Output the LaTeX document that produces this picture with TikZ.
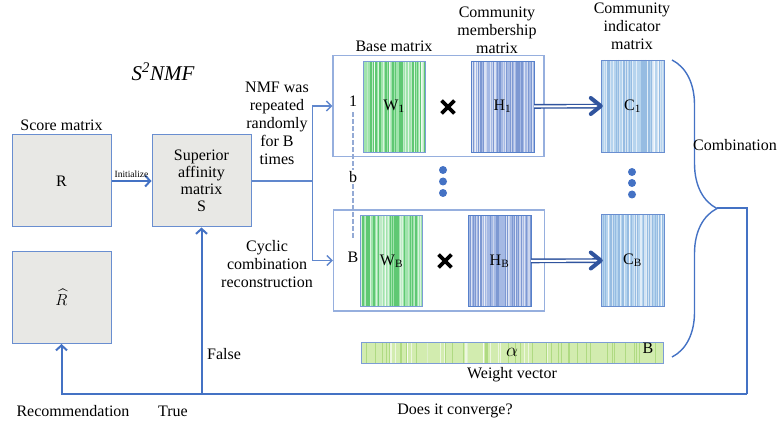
\RequirePackage{fix-cm}
\documentclass[tikz,border=0pt]{standalone}
\usepackage{fontspec}
\setmainfont{Liberation Serif}
\usepackage{amsmath}
\usetikzlibrary{arrows.meta,positioning,calc,shapes.misc,decorations.pathreplacing}

\definecolor{lineblue}{RGB}{68,114,196}
\definecolor{frameblue}{RGB}{150,175,222}
\definecolor{darkarrow}{RGB}{48,84,158}
\definecolor{scorefill}{RGB}{232,232,229}
\definecolor{wfill}{RGB}{160,228,172}
\definecolor{wline}{RGB}{95,200,115}
\definecolor{hfill}{RGB}{165,185,228}
\definecolor{hline}{RGB}{125,152,210}
\definecolor{cfill}{RGB}{182,212,238}
\definecolor{cline}{RGB}{150,188,226}
\definecolor{vfill}{RGB}{210,236,175}
\definecolor{vline}{RGB}{175,218,130}

\tikzset{
  stripes/.style={path picture={
    \foreach \k in {1,...,40}{
      \pgfmathsetmacro\xx{rnd}
      \draw[#1, line width=0.35pt]
        ($(path picture bounding box.north west)!\xx!(path picture bounding box.north east)$) --
        ($(path picture bounding box.south west)!\xx!(path picture bounding box.south east)$);
    }
    \foreach \k in {1,...,20}{
      \pgfmathsetmacro\xx{rnd}
      \draw[white, opacity=0.6, line width=0.4pt]
        ($(path picture bounding box.north west)!\xx!(path picture bounding box.north east)$) --
        ($(path picture bounding box.south west)!\xx!(path picture bounding box.south east)$);
    }}}
}

\begin{document}
\begin{tikzpicture}[x=1pt,y=-1pt,font=\fontsize{16}{19}\selectfont]
  \pgfmathsetseed{7}
  \tikzstyle{score}
    =[draw=lineblue!80, fill=scorefill, line width=1pt, minimum width=99pt,
    minimum height=92pt, inner sep=0pt, align=center]
  \tikzstyle{frame}
    =[draw=frameblue, line width=1.2pt, minimum width=211pt, minimum height=101pt, inner sep=0pt]
  \tikzstyle{wmat}
    =[draw=lineblue!70, fill=wfill, stripes=wline, minimum width=62pt, minimum height=91pt, inner sep=0pt]
  \tikzstyle{hmat}
    =[draw=lineblue!90, fill=hfill, stripes=hline, minimum width=63pt, minimum height=91pt, inner sep=0pt]
  \tikzstyle{cmat}
    =[draw=lineblue!80, fill=cfill, stripes=cline, minimum width=63pt, minimum height=92pt, inner sep=0pt]
  \tikzstyle{times}
    =[cross out, draw=black, line width=3.8pt, minimum size=9pt, inner sep=0pt]
  \tikzstyle{dot}
    =[circle, fill=lineblue, minimum size=8pt, inner sep=0pt]
  \tikzstyle{flow}
    =[draw=lineblue, line width=2pt, -{Straight Barb[length=5pt,width=11pt,line width=2pt]}]
  \tikzstyle{split}
    =[draw=lineblue!85, line width=1.4pt, -{Straight Barb[length=5pt,width=10pt,line width=1.4pt]}]
  \tikzstyle{dbl}
    =[draw=darkarrow, double=white, double distance=2pt, line width=1.4pt, shorten >=3pt]
  \tikzstyle{chevron}
    =[draw=darkarrow, line width=4pt, line cap=round, line join=round]
  \tikzstyle{lbl}
    =[align=center, inner sep=1pt]

  \useasboundingbox (0,0) rectangle (778,427);

  % left column
  \node[score] (R) at (61.5,181) {R};
  \node[lbl] (scorelbl) [above=3pt of R] {Score matrix};
  \node[score] (Rhat) at (61.5,297.5) {$\widehat{R}$};
  \node[score] (S) at (201.5,181) {Superior\\[-2pt]affinity\\[-2pt]matrix\\[-2pt]S};
  \node[font=\fontsize{21}{23}\selectfont\itshape] (title) at (163,72) {S\textsuperscript{2}NMF};
  \draw[flow] (R) -- node[above, font=\fontsize{9.5}{10}\selectfont, inner sep=2pt] {Initialize} (S);

  % NMF runs
  \node[frame] (frame1) at (438.5,106) {};
  \node[frame] (frameB) at (439,260.5) {};
  \node[wmat] (W1) at (394,106.5) {W\textsubscript{1}};
  \node[hmat] (H1) at (502.5,106.5) {H\textsubscript{1}};
  \node[wmat] (WB) at (391.5,261) {W\textsubscript{B}};
  \node[hmat] (HB) at (499.5,261) {H\textsubscript{B}};
  \node[times] (x1) at (448,107) {};
  \node[times] (xB) at (445,261) {};
  \node[cmat] (C1) at (632.5,106) {C\textsubscript{1}};
  \node[cmat] (CB) at (632.5,260.5) {C\textsubscript{B}};
  \draw[dbl] (H1) -- (C1);
  \draw[chevron] ([xshift=-10pt,yshift=-8pt]C1.west) -- (C1.west) -- ([xshift=-10pt,yshift=8pt]C1.west);
  \draw[dbl] (HB) -- (CB);
  \draw[chevron] ([xshift=-10pt,yshift=-8pt]CB.west) -- (CB.west) -- ([xshift=-10pt,yshift=8pt]CB.west);

  \node[lbl] (one) at (353,101) {1};
  \node[lbl] (bee) at (353,177) {b};
  \node[lbl] (Bee) at (353,257) {B};
  \draw[frameblue!90!gray, line width=1.4pt, dash pattern=on 5pt off 2pt] ([yshift=-5pt]one.south) -- (bee.north);
  \draw[frameblue!90!gray, line width=1.4pt, dash pattern=on 5pt off 2pt] (bee.south) -- ([yshift=12pt]Bee.north);

  \foreach \y in {170,181.5,193} \node[dot] at (443,\y) {};
  \foreach \y in {172,183,194.5} \node[dot] at (632,\y) {};

  \node[lbl] (basetxt) at (394,46) {Base matrix};
  \node[lbl] (membtxt) at (497,30) {Community\\[-1pt]membership\\[-1pt]matrix};
  \node[lbl] (indtxt) at (632,26) {Community\\[-1pt]indicator\\[-1pt]matrix};

  \draw[split] (S.east) -- ++(61,0) coordinate (fork) |- (frame1.west);
  \draw[split] (fork) |- (frameB.west);
  \node[lbl] (nmftxt) at (277,123) {NMF was\\[-1pt]repeated\\[-1pt]randomly\\[-1pt]for B\\[-1pt]times};

  % weight vector
  \node[draw=lineblue!70, fill=vfill, stripes=vline, minimum width=302pt, minimum height=21pt, inner sep=0pt] (wvec) at (512,352.5) {};
  \node[font=\fontsize{19}{20}\selectfont] (alpha) at (512,352) {$\alpha$};
  \node (wB) at (648,348) {B};
  \node[lbl] (wtxt) [below=3pt of wvec] {Weight vector};

  % combination and loop
  \draw[lineblue, line width=1.4pt, decorate, decoration={brace, amplitude=45pt}]
    (672,60) -- (672,357);
  \coordinate (tip) at (717,208.5);
  \coordinate (turn) at (747,394);
  \node[lbl] (comb) at (735,145) {Combination};
  \draw[lineblue, line width=2pt] (tip) -| (turn);
  \draw[flow] (turn) -| (Rhat.south);
  \draw[flow] (S.south |- turn) -- (S.south);

  \node[lbl] (cyc) at (267,264) {Cyclic\\[-1pt]combination\\[-1pt]reconstruction};
  \node[lbl] (false) at (224,354) {False};
  \node[lbl] (recom) at (73,411) {Recommendation};
  \node[lbl] (true) at (173,411) {True};
  \node[lbl] (conv) at (455,411) {Does it converge?};
\end{tikzpicture}
\end{document}
